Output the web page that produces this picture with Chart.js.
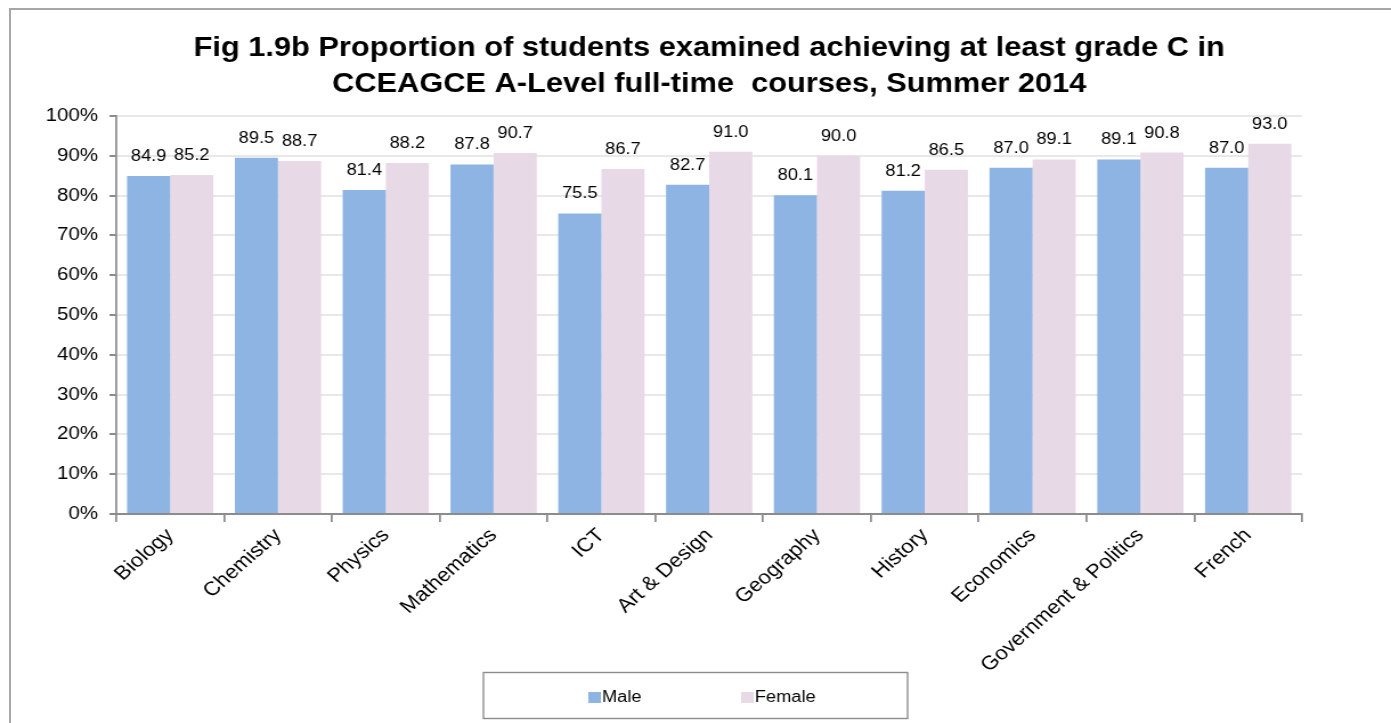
<!DOCTYPE html>
<html>
<head>
<meta charset="utf-8">
<script src="https://cdn.jsdelivr.net/npm/chart.js@4/dist/chart.umd.min.js"></script>
<style>
  html, body { margin: 0; padding: 0; background: #fff; overflow: hidden; }
  #wrap { position: relative; width: 1391px; height: 723px; }
  #frame { position: absolute; left: 9px; top: 8px; width: 1500px; height: 800px;
           border: 2px solid #a6a6a6; box-sizing: border-box; }
  /* the drawing surface is rendered narrower and widened on screen, giving the wide lettering */
  #chart { position: absolute; left: 0; top: 0; transform-origin: 0 0;
           transform: scaleX(1.1401639); }
</style>
</head>
<body>
<div id="wrap">
  <div id="frame"></div>
  <canvas id="chart" width="1220" height="723" style="width:1220px;height:723px"></canvas>
</div>
<script>
// Subjects and the share of each sex reaching at least grade C (%)
const subjects = ['Biology', 'Chemistry', 'Physics', 'Mathematics', 'ICT', 'Art & Design',
                  'Geography', 'History', 'Economics', 'Government & Politics', 'French'];
const maleValues   = [84.9, 89.5, 81.4, 87.8, 75.5, 82.7, 80.1, 81.2, 87.0, 89.1, 87.0];
const femaleValues = [85.2, 88.7, 88.2, 90.7, 86.7, 91.0, 90.0, 86.5, 89.1, 90.8, 93.0];
const seriesNames  = ['Male', 'Female'];
const yTickValues  = [0, 10, 20, 30, 40, 50, 60, 70, 80, 90, 100];
const titleLines   = ['Fig 1.9b Proportion of students examined achieving at least grade C in',
                      'CCEAGCE A-Level full-time  courses, Summer 2014'];

const MALE_COLOR = '#8EB4E3';
const FEMALE_COLOR = '#E8D9E6';
const AXIS_COLOR = '#8c8c8c';
const FONT = '"Liberation Sans", Arial, Helvetica, sans-serif';

// Value labels above each bar
const valueLabels = {
  id: 'valueLabels',
  afterDatasetsDraw(chart) {
    const ctx = chart.ctx;
    ctx.save();
    ctx.font = '16px ' + FONT;
    ctx.fillStyle = '#000';
    ctx.textAlign = 'center';
    ctx.textBaseline = 'middle';
    chart.data.datasets.forEach((ds, i) => {
      chart.getDatasetMeta(i).data.forEach((bar, j) => {
        ctx.fillText(ds.data[j].toFixed(1), bar.x, bar.y - 19.5);
      });
    });
    ctx.restore();
  }
};

// Boxed legend under the axis labels
const boxedLegend = {
  id: 'boxedLegend',
  afterDraw(chart) {
    const ctx = chart.ctx;
    const box = { x: 424, y: 672.5, w: 372, h: 46 };
    ctx.save();
    ctx.strokeStyle = AXIS_COLOR;
    ctx.lineWidth = 1.4;
    ctx.strokeRect(box.x, box.y, box.w, box.h);
    ctx.font = '16px ' + FONT;
    ctx.textBaseline = 'middle';
    ctx.textAlign = 'left';
    const cy = box.y + box.h / 2 + 2;
    const starts = [516, 650];
    chart.data.datasets.forEach((ds, i) => {
      const x = starts[i];
      ctx.fillStyle = ds.backgroundColor;
      ctx.fillRect(x, cy - 5.5, 11, 11);
      ctx.fillStyle = '#000';
      ctx.fillText(ds.label, x + 12, cy);
    });
    ctx.restore();
  }
};

new Chart(document.getElementById('chart'), {
  type: 'bar',
  data: {
    labels: subjects,
    datasets: [
      { label: seriesNames[0], data: maleValues, backgroundColor: MALE_COLOR },
      { label: seriesNames[1], data: femaleValues, backgroundColor: FEMALE_COLOR }
    ]
  },
  options: {
    responsive: false,
    devicePixelRatio: 1,
    animation: false,
    layout: { padding: { left: 0, right: 78, top: 20, bottom: 0 } },
    datasets: { bar: { categoryPercentage: 0.8, barPercentage: 1.0 } },
    plugins: {
      legend: { display: false },
      tooltip: { enabled: false },
      title: {
        display: true,
        fullSize: false,
        text: titleLines,
        color: '#000',
        font: { family: FONT, size: 27, weight: 'bold', lineHeight: 36.5 / 27 },
        padding: { top: 10, bottom: 13 }
      }
    },
    scales: {
      x: {
        afterFit(scale) { scale.height = 209; },
        grid: { display: true, drawOnChartArea: false, drawTicks: true, tickLength: 8,
                color: AXIS_COLOR, lineWidth: 1.75, offset: true },
        border: { display: true, color: AXIS_COLOR, width: 2 },
        ticks: { color: '#000', font: { family: FONT, size: 19.5 }, minRotation: 45,
                 maxRotation: 45, autoSkip: false, padding: 2 }
      },
      y: {
        min: 0, max: 100,
        afterFit(scale) { scale.width = 102; },
        afterBuildTicks(scale) { scale.ticks = yTickValues.map(v => ({ value: v })); },
        grid: { color: '#e8e8e8', lineWidth: 2, tickColor: AXIS_COLOR, tickLength: 6 },
        border: { display: true, color: AXIS_COLOR, width: 1.75 },
        ticks: { color: '#000', font: { family: FONT, size: 18 }, padding: 10,
                 callback: v => v + '%' }
      }
    }
  },
  plugins: [valueLabels, boxedLegend]
});
</script>
</body>
</html>
